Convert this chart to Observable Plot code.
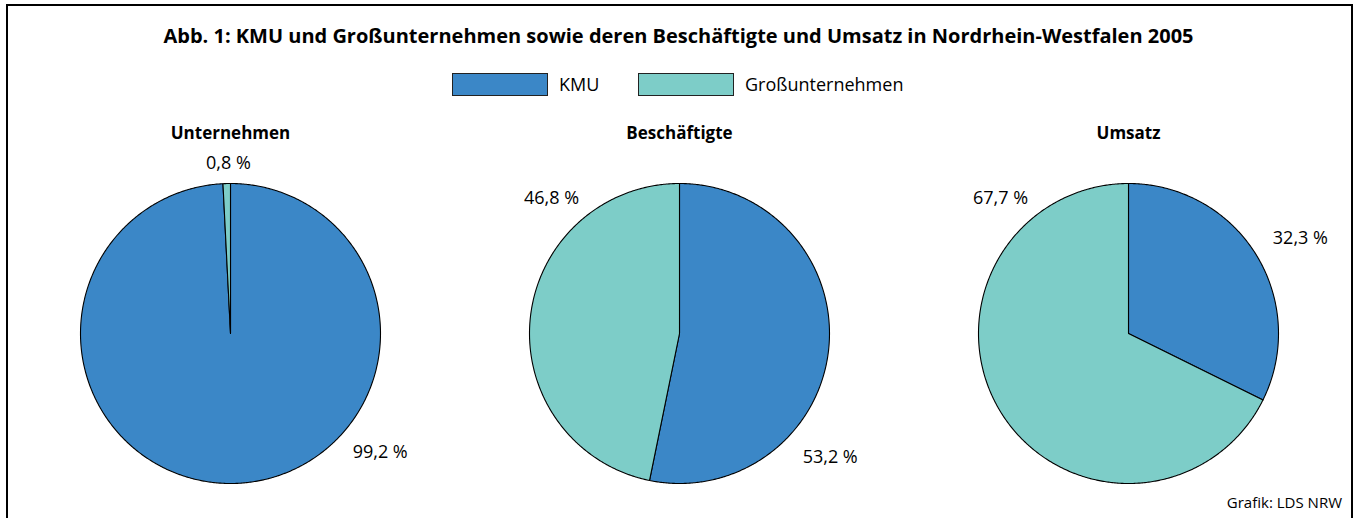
<!DOCTYPE html>
<html>
<head>
<meta charset="utf-8">
<script src="https://cdn.jsdelivr.net/npm/d3@7"></script>
<script src="https://cdn.jsdelivr.net/npm/@observablehq/plot@0.6"></script>
<style>
  html, body { margin: 0; padding: 0; background: #fff; }
  body { width: 1357px; height: 518px; overflow: hidden; position: relative; font-family: "Open Sans", "DejaVu Sans", sans-serif; color: #000; }
  .frame { position: absolute; left: 6px; top: 4px; width: 1343px; height: 600px; border: 2.5px solid #000; border-bottom: none; box-sizing: content-box; }
  .title { position: absolute; left: 0; width: 1357px; top: 22px; text-align: center; font-weight: bold; font-size: 20px; line-height: 28px; }
  .legend { position: absolute; top: 73px; height: 22px; }
  .sw { position: absolute; top: 0; width: 94px; height: 21px; border: 1px solid #222; }
  .lt { position: absolute; top: -1px; line-height: 24px; font-size: 18px; white-space: nowrap; }
  .footer { position: absolute; right: 15px; top: 491px; font-size: 15px; line-height: 22px; }
  #chart { position: absolute; left: 0; top: 110px; }
</style>
</head>
<body>
<div class="frame"></div>
<div class="title" id="title"></div>
<div class="legend" id="legend"></div>
<div id="chart"></div>
<div class="footer" id="footer"></div>
<script>
// ---- data ----
const titleText = "Abb. 1: KMU und Großunternehmen sowie deren Beschäftigte und Umsatz in Nordrhein-Westfalen 2005";
const categories = ["KMU", "Großunternehmen"];
const pieTitles = ["Unternehmen", "Beschäftigte", "Umsatz"];
const kmuShare = [99.2, 53.2, 32.3];
const grossShare = [0.8, 46.8, 67.7];
const sourceText = "Grafik: LDS NRW";

// ---- styles / layout ----
const colors = ["#3b87c7", "#7dcdc8"];
const pieCx = [230, 679, 1128];
const pieCy = 333;
const pieR = 150;
// label placement (angle in degrees clockwise from 12 o'clock, distance from centre)
const labelAngle = [[128.4, 359.3], [129.4, 316.5], [61, 316.5]];
const labelDist = [[191, 170], [195, 186], [196.5, 186]];

document.getElementById("title").textContent = titleText;
document.getElementById("footer").textContent = sourceText;

// legend
const legend = document.getElementById("legend");
const legX = [452, 638];
categories.forEach((c, i) => {
  const sw = document.createElement("div");
  sw.className = "sw";
  sw.style.left = legX[i] + "px";
  sw.style.background = colors[i];
  legend.appendChild(sw);
  const t = document.createElement("div");
  t.className = "lt";
  t.style.left = (legX[i] + 107) + "px";
  t.textContent = c;
  legend.appendChild(t);
});

// build slice polygons
const pts = [];
const labels = [];
const fmt = v => v.toFixed(1).replace(".", ",") + " %";
pieTitles.forEach((pt, p) => {
  const vals = [kmuShare[p], grossShare[p]];
  const arcs = d3.pie().sort(null).startAngle(0).endAngle(2 * Math.PI)(vals);
  arcs.forEach((a, s) => {
    const key = p + "-" + s;
    const cx = pieCx[p];
    pts.push({key, cat: categories[s], x: cx, y: pieCy});
    const n = Math.max(2, Math.ceil((a.endAngle - a.startAngle) / (Math.PI / 360)));
    for (let k = 0; k <= n; k++) {
      const ang = a.startAngle + (a.endAngle - a.startAngle) * k / n;
      pts.push({key, cat: categories[s], x: cx + pieR * Math.sin(ang), y: pieCy - pieR * Math.cos(ang)});
    }
    const la = labelAngle[p][s] * Math.PI / 180;
    labels.push({x: cx + labelDist[p][s] * Math.sin(la), y: pieCy - labelDist[p][s] * Math.cos(la), text: fmt(vals[s])});
  });
});
const titles = pieTitles.map((t, p) => ({x: pieCx[p], y: 133, text: t}));

const chart = Plot.plot({
  width: 1357,
  height: 408,
  margin: 0,
  style: {fontFamily: "'Open Sans', 'DejaVu Sans', sans-serif", background: "transparent", overflow: "visible"},
  x: {domain: [0, 1357], range: [0, 1357], axis: null},
  y: {domain: [110, 518], range: [0, 408], axis: null},
  color: {domain: categories, range: colors},
  marks: [
    Plot.line(pts, {x: "x", y: "y", z: "key", fill: "cat", stroke: "#000", strokeWidth: 1.1, curve: "linear-closed", strokeLinejoin: "round"}),
    Plot.text(titles, {x: "x", y: "y", text: "text", fontSize: 17, fontWeight: "bold", fill: "#000"}),
    Plot.text(labels, {x: "x", y: "y", text: "text", fontSize: 18, fill: "#000"})
  ]
});
document.getElementById("chart").appendChild(chart);
</script>
</body>
</html>
